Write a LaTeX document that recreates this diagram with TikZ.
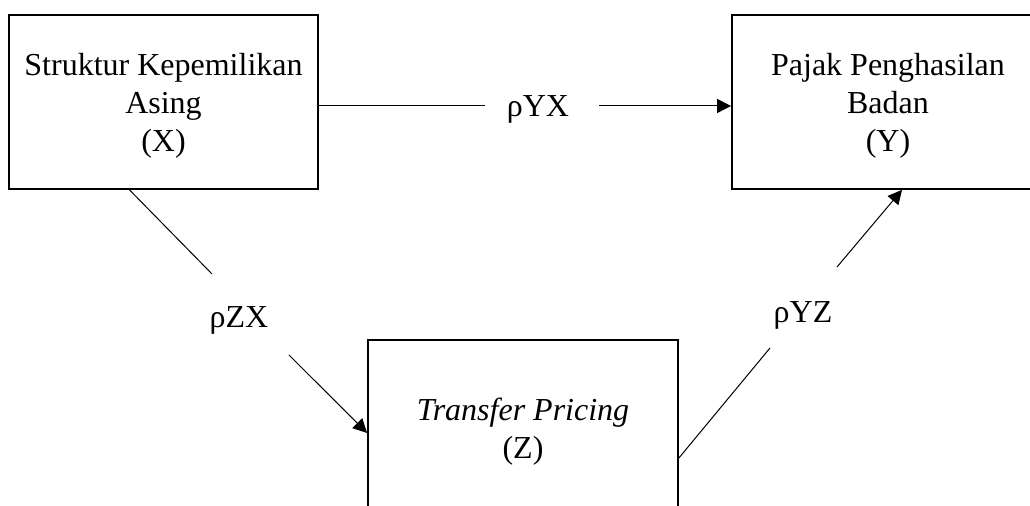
\documentclass[tikz,border=0pt]{standalone}
\usepackage{fontspec}
\setmainfont{Liberation Serif}
\usetikzlibrary{arrows.meta, positioning}

\begin{document}
\begin{tikzpicture}[x=0.5pt, y=-0.5pt, >={Triangle[length=7pt, width=7pt]},
  font=\fontsize{16}{19}\selectfont,
  varbox/.style={draw, line width=0.9pt, align=center, inner sep=0pt, text depth=0pt},
  link/.style={line width=0.5pt},
  coef/.style={inner sep=0pt}]
  \useasboundingbox (0,0) rectangle (1030,506);
  \clip (0,0) rectangle (1030,506);
  % variables
  \node[varbox, minimum width=154.5pt, minimum height=87pt] (asing) at (163.5,102)
    {Struktur Kepemilikan\\Asing\\(X)};
  \node[varbox, minimum width=156pt, minimum height=87pt] (pajak) at (888,102)
    {Pajak Penghasilan\\Badan\\(Y)};
  \node[varbox, minimum width=155pt, minimum height=88pt] (tp) at (523,428)
    {\textit{Transfer Pricing}\\(Z)};
  % path coefficients
  \node[coef] (ryx) at (538,109) {ρYX};
  \node[coef] (rzx) at (239,320) {ρZX};
  \node[coef] (ryz) at (803,315) {ρYZ};
  \coordinate (yx1) at (485,106);
  \coordinate (yx2) at (599,106);
  \coordinate (zx1) at (212,274);
  \coordinate (zx2) at (289,355);
  \coordinate (yz1) at (770,348);
  \coordinate (yz2) at (837,267);
  % X -> Y
  \draw[link] (asing.east |- yx1) -- (yx1);
  \draw[link, ->] (yx2) -- (pajak.west |- yx2);
  % X -> Z
  \draw[link] ([xshift=-17pt]asing.south) -- (zx1);
  \draw[link, ->] (zx2) -- ([yshift=-2.5pt]tp.west);
  % Z -> Y
  \draw[link] ([yshift=-15pt]tp.east) -- (yz1);
  \draw[link, ->] (yz2) -- ([xshift=7pt]pajak.south);
\end{tikzpicture}
\end{document}
